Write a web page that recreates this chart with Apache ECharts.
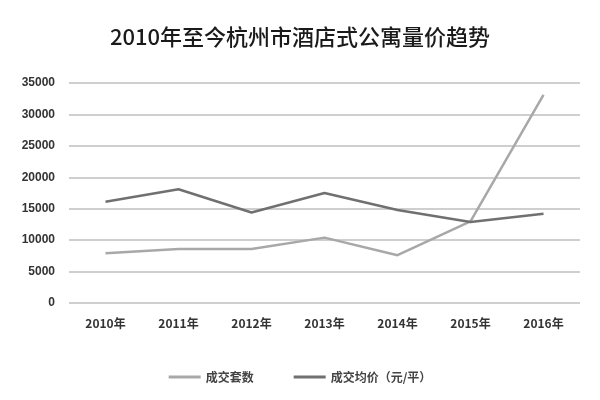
<!DOCTYPE html>
<html><head><meta charset="utf-8">
<script src="https://cdn.jsdelivr.net/npm/echarts@6/dist/echarts.min.js"></script>
<style>html,body{margin:0;padding:0;background:#fff}#c{width:600px;height:400px}</style>
</head><body><div id="c"></div>
<script>
const categories = ['2010年','2011年','2012年','2013年','2014年','2015年','2016年'];
const countValues = [7900, 8600, 8600, 10400, 7600, 13000, 33100];
const priceValues = [16100, 18100, 14400, 17500, 14800, 12900, 14200];
const seriesNames = ['成交套数', '成交均价（元/平）'];

const chart = echarts.init(document.getElementById('c'));
chart.setOption({
  backgroundColor: '#fff',
  animation: false,
  title: {
    text: '2010年至今杭州市酒店式公寓量价趋势',
    left: 'center', top: 21,
    textStyle: { fontFamily: 'Noto Sans CJK SC', fontSize: 22, fontWeight: 500, color: '#1a1a1a' }
  },
  legend: {
    bottom: 12, left: 'center', itemGap: 40, itemWidth: 32, itemHeight: 3,
    icon: 'rect',
    textStyle: { fontFamily: 'Noto Sans CJK SC', fontSize: 12, color: '#444', fontWeight: 'bold' },
    data: seriesNames
  },
  grid: { left: 69, right: 20, top: 83, bottom: 97 },
  xAxis: {
    type: 'category', data: categories, boundaryGap: true,
    axisLine: { show: false }, axisTick: { show: false },
    axisLabel: { margin: 14, fontFamily: 'Noto Sans CJK SC', fontSize: 12, color: '#333', fontWeight: 'bold' }
  },
  yAxis: {
    type: 'value', min: 0, max: 35000, interval: 5000,
    axisLine: { show: false }, axisTick: { show: false },
    axisLabel: { margin: 14, fontFamily: 'Liberation Sans', fontSize: 12, color: '#333', fontWeight: 'bold',
      formatter: v => String(v) },
    splitLine: { lineStyle: { color: '#cfcfcf', width: 2 } }
  },
  series: [
    { name: seriesNames[0], type: 'line', data: countValues, symbol: 'none',
      itemStyle: { color: '#a8a8a8' }, lineStyle: { color: '#a8a8a8', width: 2.5 } },
    { name: seriesNames[1], type: 'line', data: priceValues, symbol: 'none',
      itemStyle: { color: '#707070' }, lineStyle: { color: '#707070', width: 2.5 } }
  ]
});
</script></body></html>
